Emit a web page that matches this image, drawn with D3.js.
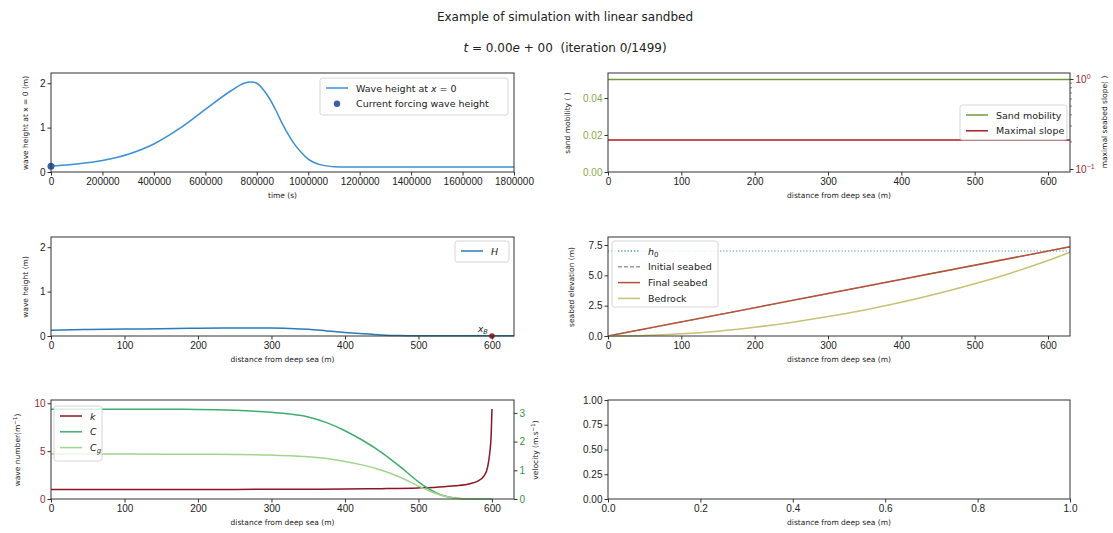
<!DOCTYPE html>
<html>
<head>
<meta charset="utf-8">
<script src="https://cdn.jsdelivr.net/npm/d3@7"></script>
<style>
  body { margin: 0; background: #fff; }
  svg { font-family: "DejaVu Sans", sans-serif; }
  .tick text { font-size: 10px; fill: #222; }
  .tick line { stroke: #333; }
  .lbl { font-size: 7.5px; fill: #222; }
</style>
</head>
<body>
<svg id="fig" width="1113" height="533"></svg>
<script>
// forcing wave height at x = 0 over time
const timeS = [0, 100000, 200000, 300000, 400000, 500000, 600000, 700000, 750000, 780000, 800000,
  825000, 850000, 875000, 900000, 925000, 950000, 975000, 1000000, 1050000, 1100000, 1150000,
  1200000, 1400000, 1600000, 1800000];
const waveHeightX0 = [0.13, 0.18, 0.26, 0.40, 0.63, 0.98, 1.41, 1.83, 2.00, 2.03, 2.00,
  1.86, 1.65, 1.38, 1.08, 0.82, 0.60, 0.43, 0.29, 0.16, 0.12, 0.11,
  0.11, 0.11, 0.11, 0.11];
const currentForcing = [0, 0.13];

// wave height along the profile
const xH = [0, 50, 100, 150, 200, 250, 300, 325, 350, 375, 400, 425, 450, 475, 500, 550, 600, 630];
const waveH = [0.13, 0.145, 0.155, 0.165, 0.175, 0.18, 0.18, 0.17, 0.15, 0.115, 0.08, 0.05, 0.025, 0.01, 0.005, 0.003, 0.003, 0.003];
const xBreak = [600, 0];

// sand mobility / max slope
const xFlat = [0, 630];
const sandMobility = [0.05, 0.05];
const maxSlope = [0.21, 0.21];

// seabed
const h0 = [7.0, 7.0];
const initialSeabed = [0, 7.35];
const finalSeabed = [0, 7.35];
const xRock = [0, 50, 100, 150, 200, 250, 300, 350, 400, 450, 500, 550, 600, 630];
const bedrock = [0, 0.05, 0.18, 0.40, 0.72, 1.12, 1.60, 2.15, 2.78, 3.50, 4.30, 5.20, 6.22, 6.90];

// wave number and velocities
const xK = [0, 100, 200, 300, 400, 450, 500, 525, 550, 570, 580, 590, 594, 597, 599, 600];
const waveNumber = [1.0, 1.0, 1.0, 1.01, 1.04, 1.08, 1.16, 1.24, 1.38, 1.6, 1.85, 2.5, 3.3, 4.8, 6.8, 9.4];
const xC = [0, 100, 200, 250, 300, 325, 350, 375, 400, 425, 450, 475, 500, 515, 530, 545, 560, 575, 600];
const celerity = [3.13, 3.13, 3.12, 3.09, 3.02, 2.96, 2.86, 2.66, 2.38, 2.03, 1.62, 1.13, 0.60, 0.34, 0.15, 0.05, 0.01, 0.0, 0.0];
const groupCelerity = [1.565, 1.565, 1.56, 1.55, 1.53, 1.51, 1.47, 1.41, 1.31, 1.18, 1.0, 0.76, 0.45, 0.28, 0.14, 0.05, 0.01, 0.0, 0.0];

const distTicks = [0, 100, 200, 300, 400, 500, 600];

const svg = d3.select("#fig");

// titles
svg.append("text").attr("x", 565).attr("y", 21).attr("text-anchor", "middle")
  .style("font-size", "12px").attr("fill", "#222")
  .text("Example of simulation with linear sandbed");
let sub = svg.append("text").attr("x", 565).attr("y", 52).attr("text-anchor", "middle")
  .style("font-size", "12px").attr("fill", "#222").style("white-space", "pre");
sub.append("tspan").style("font-style", "italic").text("t");
sub.append("tspan").text(" = 0.00");
sub.append("tspan").style("font-style", "italic").text("e");
sub.append("tspan").text(" + 00\u00a0\u00a0(iteration 0/1499)");

const cols = [[51, 514], [608, 1070]];
const rows = [[73, 172], [237, 336], [400, 499]];

// 一个子图：框 + 比例尺
function makePanel(c, r, xDomain, yDomain) {
  let x = d3.scaleLinear().domain(xDomain).range(cols[c]);
  let y = d3.scaleLinear().domain(yDomain).range([rows[r][1], rows[r][0]]);
  return { x: x, y: y, c: c, r: r };
}

function frame(p) {
  svg.append("rect")
    .attr("x", cols[p.c][0]).attr("y", rows[p.r][0])
    .attr("width", cols[p.c][1] - cols[p.c][0])
    .attr("height", rows[p.r][1] - rows[p.r][0])
    .attr("fill", "none").attr("stroke", "#333").attr("stroke-width", 1);
}

function xAxis(p, ticks, fmt, label) {
  let g = svg.append("g").attr("transform", "translate(0," + rows[p.r][1] + ")")
    .call(d3.axisBottom(p.x).tickValues(ticks).tickFormat(fmt).tickSize(3.5).tickPadding(2).tickSizeOuter(0));
  g.select(".domain").remove();
  svg.append("text").attr("class", "lbl").attr("text-anchor", "middle")
    .attr("x", (cols[p.c][0] + cols[p.c][1]) / 2).attr("y", rows[p.r][1] + 26)
    .text(label);
}

function yAxis(p, scale, side, ticks, fmt, color) {
  let ax = side === "left" ? d3.axisLeft(scale) : d3.axisRight(scale);
  let xPos = side === "left" ? cols[p.c][0] : cols[p.c][1];
  let g = svg.append("g").attr("transform", "translate(" + xPos + ",0)")
    .call(ax.tickValues(ticks).tickFormat(fmt).tickSize(3.5).tickPadding(2).tickSizeOuter(0));
  g.select(".domain").remove();
  if (color) g.selectAll("text").style("fill", color);
  return g;
}

function yLabel(x, y, textFn) {
  let t = svg.append("text").attr("class", "lbl").attr("text-anchor", "middle")
    .attr("transform", "translate(" + x + "," + y + ") rotate(-90)");
  textFn(t);
}

function drawLine(p, xs, ys, yScale, color, width, dash) {
  let line = d3.line().x(function (d) { return p.x(d[0]); })
    .y(function (d) { return yScale(d[1]); })
    .curve(d3.curveMonotoneX);
  svg.append("path").datum(d3.zip(xs, ys)).attr("d", line)
    .attr("fill", "none").attr("stroke", color).attr("stroke-width", width)
    .attr("stroke-dasharray", dash || null);
}

// 图例
function legend(x, y, w, h, items) {
  let g = svg.append("g").attr("transform", "translate(" + x + "," + y + ")");
  g.append("rect").attr("width", w).attr("height", h).attr("rx", 2.5)
    .attr("fill", "#fff").attr("fill-opacity", 0.8).attr("stroke", "#ccc").attr("stroke-width", 0.8);
  items.forEach(function (it, i) {
    let cy = 10 + i * 15.8;
    if (it.type === "dot") {
      g.append("circle").attr("cx", 17).attr("cy", cy).attr("r", 3.2).attr("fill", it.color);
    } else {
      g.append("line").attr("x1", 6).attr("x2", 28).attr("y1", cy).attr("y2", cy)
        .attr("stroke", it.color).attr("stroke-width", 1.5).attr("stroke-dasharray", it.dash || null);
    }
    let t = g.append("text").attr("x", 36).attr("y", cy + 3.5).style("font-size", "9.5px").attr("fill", "#222");
    it.label(t);
  });
}

const fmtInt = d3.format("d");

// ---- panel 1 : wave height at x = 0 over time
let p1 = makePanel(0, 0, [0, 1800000], [0, 2.23]);
drawLine(p1, timeS, waveHeightX0, p1.y, "#3f8fd4", 1.5);
svg.append("circle").attr("cx", p1.x(currentForcing[0])).attr("cy", p1.y(currentForcing[1]))
  .attr("r", 3.5).attr("fill", "#3a5ea8");
frame(p1);
xAxis(p1, d3.range(0, 1800001, 200000), fmtInt, "time (s)");
yAxis(p1, p1.y, "left", [0, 1, 2], fmtInt);
yLabel(28, 123, function (t) { t.text("wave height at x = 0 (m)"); });
legend(320, 78, 188, 37, [
  { type: "line", color: "#3f8fd4", label: function (t) {
    t.append("tspan").text("Wave height at ");
    t.append("tspan").style("font-style", "italic").text("x");
    t.append("tspan").text(" = 0");
  } },
  { type: "dot", color: "#3a5ea8", label: function (t) { t.text("Current forcing wave height"); } }
]);

// ---- panel 2 : sand mobility + maximal slope (log)
let p2 = makePanel(1, 0, [0, 630], [0, 0.0535]);
let ySlope = d3.scaleLog().domain([0.0926, 1.166]).range([rows[0][1], rows[0][0]]);
drawLine(p2, xFlat, sandMobility, p2.y, "#6f9a3a", 1.5);
drawLine(p2, xFlat, maxSlope, ySlope, "#a81c24", 1.5);
frame(p2);
xAxis(p2, distTicks, fmtInt, "distance from deep sea (m)");
yAxis(p2, p2.y, "left", [0, 0.02, 0.04], d3.format(".2f"), "#8aa84a");
let gs = yAxis(p2, ySlope, "right", [0.1, 1], function () { return ""; });
gs.selectAll(".tick text").each(function (d) {
  let t = d3.select(this).style("fill", "#a0282e");
  t.append("tspan").text("10");
  t.append("tspan").attr("dy", -4).style("font-size", "7px").text(d === 1 ? "0" : "\u22121");
});
// minor ticks
svg.append("g").selectAll("line").data([0.2, 0.3, 0.4, 0.5, 0.6, 0.7, 0.8, 0.9]).enter().append("line")
  .attr("x1", cols[1][1]).attr("x2", cols[1][1] + 2)
  .attr("y1", function (d) { return ySlope(d); }).attr("y2", function (d) { return ySlope(d); })
  .attr("stroke", "#333").attr("stroke-width", 0.6);
yLabel(570, 123, function (t) { t.text("sand mobility ( )"); });
yLabel(1107, 122, function (t) { t.text("maximal seabed slope( )"); });
legend(960, 105, 107, 35, [
  { type: "line", color: "#6f9a3a", label: function (t) { t.text("Sand mobility"); } },
  { type: "line", color: "#a81c24", label: function (t) { t.text("Maximal slope"); } }
]);

// ---- panel 3 : wave height along profile
let p3 = makePanel(0, 1, [0, 630], [0, 2.23]);
drawLine(p3, xH, waveH, p3.y, "#2a7bb8", 1.5);
svg.append("circle").attr("cx", p3.x(xBreak[0])).attr("cy", p3.y(xBreak[1]))
  .attr("r", 2.8).attr("fill", "#b01c2c");
let xb = svg.append("text").attr("x", p3.x(xBreak[0]) - 14).attr("y", p3.y(xBreak[1]) - 4)
  .style("font-size", "9px").attr("fill", "#222");
xb.append("tspan").style("font-style", "italic").text("x");
xb.append("tspan").attr("dy", 2).style("font-size", "6.5px").style("font-style", "italic").text("B");
frame(p3);
xAxis(p3, distTicks, fmtInt, "distance from deep sea (m)");
yAxis(p3, p3.y, "left", [0, 1, 2], fmtInt);
yLabel(28, 287, function (t) { t.text("wave height (m)"); });
legend(455, 241, 54, 21, [
  { type: "line", color: "#2a7bb8", label: function (t) {
    t.append("tspan").style("font-style", "italic").text("H");
  } }
]);

// ---- panel 4 : seabed elevation
let p4 = makePanel(1, 1, [0, 630], [0, 8.16]);
drawLine(p4, xFlat, h0, p4.y, "#4a90d0", 1.1, "1.2,2");
drawLine(p4, xFlat, initialSeabed, p4.y, "#999", 1.2, "4,2");
drawLine(p4, xFlat, finalSeabed, p4.y, "#b5533a", 1.5);
drawLine(p4, xRock, bedrock, p4.y, "#c9c173", 1.5);
frame(p4);
xAxis(p4, distTicks, fmtInt, "distance from deep sea (m)");
yAxis(p4, p4.y, "left", [0, 2.5, 5, 7.5], d3.format(".1f"));
yLabel(574, 287, function (t) { t.text("seabed elevation (m)"); });
legend(612, 241, 106, 66, [
  { type: "line", color: "#4a90d0", dash: "1.2,2", label: function (t) {
    t.append("tspan").style("font-style", "italic").text("h");
    t.append("tspan").attr("dy", 2).style("font-size", "7px").text("0");
  } },
  { type: "line", color: "#999", dash: "4,2", label: function (t) { t.text("Initial seabed"); } },
  { type: "line", color: "#b5533a", label: function (t) { t.text("Final seabed"); } },
  { type: "line", color: "#c9c173", label: function (t) { t.text("Bedrock"); } }
]);

// ---- panel 5 : wave number + velocities
let p5 = makePanel(0, 2, [0, 630], [0, 10.34]);
let yVel = d3.scaleLinear().domain([0, 3.45]).range([rows[2][1], rows[2][0]]);
drawLine(p5, xK, waveNumber, p5.y, "#8c1526", 1.5);
drawLine(p5, xC, celerity, yVel, "#3dae6e", 1.5);
drawLine(p5, xC, groupCelerity, yVel, "#a3d48e", 1.5);
frame(p5);
xAxis(p5, distTicks, fmtInt, "distance from deep sea (m)");
yAxis(p5, p5.y, "left", [0, 5, 10], fmtInt, "#a0282e");
yAxis(p5, yVel, "right", [0, 1, 2, 3], fmtInt, "#2e9a3a");
yLabel(20, 450, function (t) {
  t.append("tspan").text("wave number(m");
  t.append("tspan").attr("dy", -3).style("font-size", "5.5px").text("\u22121");
  t.append("tspan").attr("dy", 3).text(")");
});
yLabel(538, 450, function (t) {
  t.append("tspan").text("velocity (m.s");
  t.append("tspan").attr("dy", -3).style("font-size", "5.5px").text("\u22121");
  t.append("tspan").attr("dy", 3).text(")");
});
legend(54, 406, 48, 55, [
  { type: "line", color: "#8c1526", label: function (t) { t.append("tspan").style("font-style", "italic").text("k"); } },
  { type: "line", color: "#3dae6e", label: function (t) { t.append("tspan").style("font-style", "italic").text("C"); } },
  { type: "line", color: "#a3d48e", label: function (t) {
    t.append("tspan").style("font-style", "italic").text("C");
    t.append("tspan").attr("dy", 2).style("font-size", "7px").style("font-style", "italic").text("g");
  } }
]);

// ---- panel 6 : empty
let p6 = makePanel(1, 2, [0, 1], [0, 1]);
frame(p6);
xAxis(p6, [0, 0.2, 0.4, 0.6, 0.8, 1.0], d3.format(".1f"), "distance from deep sea (m)");
yAxis(p6, p6.y, "left", [0, 0.25, 0.5, 0.75, 1], d3.format(".2f"));
</script>
</body>
</html>
